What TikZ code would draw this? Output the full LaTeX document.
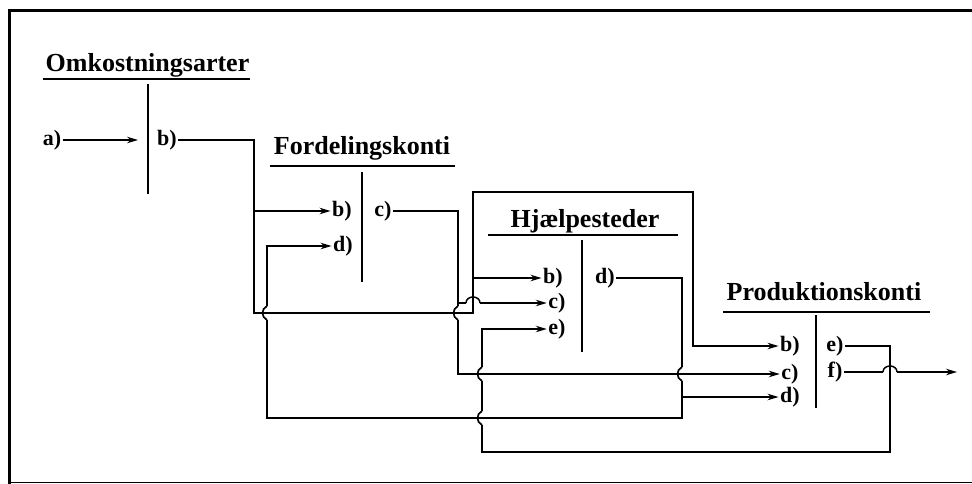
\documentclass[tikz,border=0pt]{standalone}
\usepackage{fontspec}
\setmainfont{Liberation Serif}
\usetikzlibrary{arrows.meta}
\tikzset{
  ln/.style={line width=1.1pt},
  arr/.style={ln,-{Stealth[length=11pt,width=6.5pt]}},
  ttl/.style={font=\fontsize{26}{30}\selectfont\bfseries, anchor=base, inner sep=0pt},
  lbl/.style={font=\fontsize{22}{26}\selectfont\bfseries, inner sep=1.5pt},
  hopv/.pic={\draw[white,line width=3pt] (0,-7)--(0,7);
             \draw[line width=1.7pt] (0,-7) .. controls (-6,-4) and (-6,4) .. (0,7);
             \draw[ln] (-2,0)--(2,0);},
  hoph/.pic={\draw[white,line width=3pt] (-7,0)--(7,0);
             \draw[line width=1.5pt] (-7,0) .. controls (-7,-8) and (7,-8) .. (7,0);
             \draw[ln] (0,-2)--(0,2);}
}
\begin{document}
\begin{tikzpicture}[x=1pt,y=-1pt]
\useasboundingbox (0,0) rectangle (972,484);
% frame
\draw[line width=3.5pt] (9.5,484) -- (9.5,10.5) -- (972,10.5);
\draw[line width=1pt] (9.5,482.5) -- (972,482.5);

% titles
\node[ttl] (t1) at (147.5,72) {Omkostningsarter};
\node[ttl] (t2) at (362,155) {Fordelingskonti};
\node[ttl] (t3) at (585,227) {Hjælpesteder};
\node[ttl] (t4) at (824,300) {Produktionskonti};
\draw[ln] (43,79) -- (250,79);
\draw[ln] (270,166) -- (455,166);
\draw[ln] (488,235) -- (678,235);
\draw[ln] (723,312) -- (930,312);
% dividers
\draw[ln] (148,84) -- (148,194);
\draw[ln] (362,172) -- (362,282);
\draw[ln] (582,240) -- (582,352);
\draw[ln] (816,315) -- (816,408);

% labels
\node[lbl] (omkA) at (52,140) {a)};
\node[lbl] (omkB) at (167,140) {b)};
\node[lbl] (fkB) at (342,211) {b)};
\node[lbl] (fkD) at (343,246) {d)};
\node[lbl] (fkC) at (383,211) {c)};
\node[lbl] (hjB) at (553,278) {b)};
\node[lbl] (hjC) at (557,303) {c)};
\node[lbl] (hjE) at (557,329) {e)};
\node[lbl] (hjD) at (605,278) {d)};
\node[lbl] (pkB) at (790,346) {b)};
\node[lbl] (pkC) at (790,374) {c)};
\node[lbl] (pkD) at (790,397) {d)};
\node[lbl] (pkE) at (835,346) {e)};
\node[lbl] (pkF) at (835,372) {f)};

% coordinates
\coordinate (aEnd) at (138,140);
\coordinate (j1) at (254,140);
\coordinate (j2) at (254,313);
\coordinate (j3) at (473,313);
\coordinate (j4) at (473,192);
\coordinate (j5) at (693,192);
\coordinate (k1) at (458,211);
\coordinate (m1) at (682,278);
\coordinate (m2) at (682,418);
\coordinate (m3) at (267,418);
\coordinate (n1) at (890,346);
\coordinate (n2) at (890,452);
\coordinate (n3) at (482,452);
\coordinate (out) at (957,372);

% a) -> divider
\draw[arr] (omkA.east) -- (aEnd);
% b) trunk
\draw[arr] (omkB.east) -- (j1) -- (j2) -- (j3) -- (j4) -- (j5) |- (pkB.west);
\draw[arr] (j1 |- fkB) -- (fkB.west);
\draw[arr] (j3 |- hjB) -- (hjB.west);
% c) line
\draw[arr] (fkC.east) -- (k1) |- (pkC.west);
\draw[arr] (k1 |- hjC) -- (hjC.west);
% d) line
\draw[arr] (hjD.east) -- (m1) -- (m2) -- (m3) |- (fkD.west);
\draw[arr] (m1 |- pkD) -- (pkD.west);
% e) line
\draw[arr] (pkE.east) -- (n1) -- (n2) -- (n3) |- (hjE.west);
% f) output
\draw[arr] (pkF.east) -- (out);

% crossings
\pic at (m3 |- j2) {hopv};
\pic at (k1 |- j2) {hopv};
\pic at (n3 |- pkC) {hopv};
\pic at (n3 |- m2) {hopv};
\pic at (m1 |- pkC) {hopv};
\pic at (j3 |- hjC) {hoph};
\pic at (n1 |- pkF) {hoph};
\end{tikzpicture}
\end{document}
